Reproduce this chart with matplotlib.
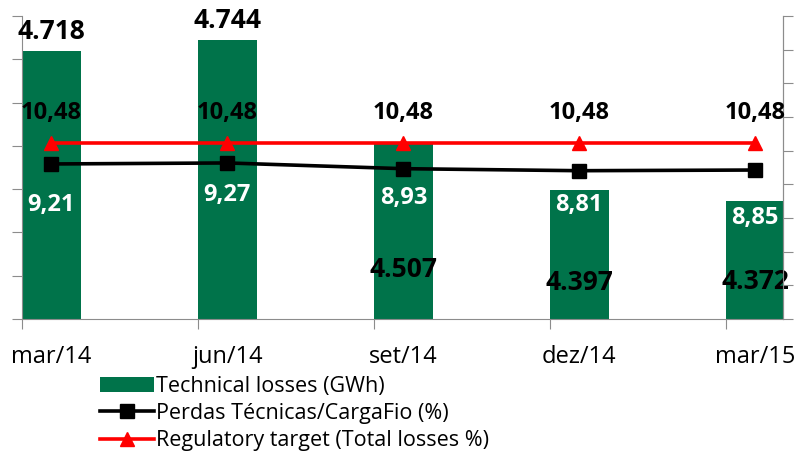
import matplotlib
matplotlib.use('Agg')
import matplotlib.pyplot as plt
import numpy as np

plt.rcParams['font.family'] = ['Open Sans', 'DejaVu Sans']

quarters = ['mar/14', 'jun/14', 'set/14', 'dez/14', 'mar/15']
tech_losses_gwh = [4.718, 4.744, 4.507, 4.397, 4.372]
perdas_pct = [9.21, 9.27, 8.93, 8.81, 8.85]
target_pct = [10.48, 10.48, 10.48, 10.48, 10.48]

green = '#00734A'
axis_grey = '#8C8C8C'
width = 0.335

# label nudges in pixels (Excel put some of them by hand)
bar_label_dy = [20, 20, -127, -92, -80]
perdas_label_dy = [-41, -32, -29, -34, -48]

fig = plt.figure(figsize=(7.96, 4.63), dpi=100)
ax = fig.add_axes([22/796, 1 - 319/463, 761/796, 303/463])
ax2 = ax.twinx()

x = np.arange(len(quarters))
centers = x + width / 2

bars = ax.bar(x, tech_losses_gwh, width, align='edge', color=green,
              label='Technical losses (GWh)')
ax.set_ylim(4.1, 4.8)
ax.set_yticks(np.arange(4.1, 4.81, 0.1))
ax.set_yticklabels([])
ax.set_xlim(0, 4 + width * 0.97)
ax.set_xticks(x)
ax.set_xticklabels([])
ax.set_xticks(centers, minor=True)
ax.set_xticklabels(quarters, minor=True, fontsize=17)
ax.tick_params(axis='x', which='minor', length=0, pad=19)
ax.tick_params(axis='x', which='major', length=7, color=axis_grey)
ax.tick_params(axis='y', length=7, color=axis_grey)

l1, = ax2.plot(centers, perdas_pct, color='black', lw=2.6, marker='s',
               markersize=10, label='Perdas Técnicas/CargaFio (%)')
l2, = ax2.plot(centers, target_pct, color='#FF0000', lw=2.6, marker='^',
               markersize=10, label='Regulatory target (Total losses %)')
ax2.set_ylim(0, 18)
ax2.set_yticks(np.arange(0, 19, 2))
ax2.set_yticklabels([])
ax2.tick_params(axis='y', length=7, color=axis_grey)

for a in (ax, ax2):
    a.spines['top'].set_visible(False)
    for s in ('left', 'right', 'bottom'):
        a.spines[s].set_color(axis_grey)
ax2.spines['left'].set_visible(False)
ax2.spines['bottom'].set_visible(False)

for cx, v, dy in zip(centers, tech_losses_gwh, bar_label_dy):
    ax.annotate('{:.3f}'.format(v), xy=(cx, v), xytext=(0, dy),
                textcoords='offset pixels', ha='center', va='center',
                fontsize=19, fontweight='bold', color='black',
                annotation_clip=False, zorder=5)

for cx, v in zip(centers, target_pct):
    ax2.annotate('{:.2f}'.format(v).replace('.', ','), xy=(cx, v), xytext=(0, 30),
                 textcoords='offset pixels', ha='center', va='center',
                 fontsize=17, fontweight='bold', color='black')

for cx, v, dy in zip(centers, perdas_pct, perdas_label_dy):
    ax2.annotate('{:.2f}'.format(v).replace('.', ','), xy=(cx, v), xytext=(0, dy),
                 textcoords='offset pixels', ha='center', va='center',
                 fontsize=17, fontweight='bold', color='white')

fig.legend([bars, l1, l2],
           [bars.get_label(), l1.get_label(), l2.get_label()],
           loc='upper left', bbox_to_anchor=(100/796, 1 - 376/463),
           frameon=False, fontsize=15.5, handlelength=2.5, handleheight=0.7,
           handletextpad=0.1, labelspacing=0.28, borderpad=0, borderaxespad=0)

fig.savefig('out.png', dpi=100)
